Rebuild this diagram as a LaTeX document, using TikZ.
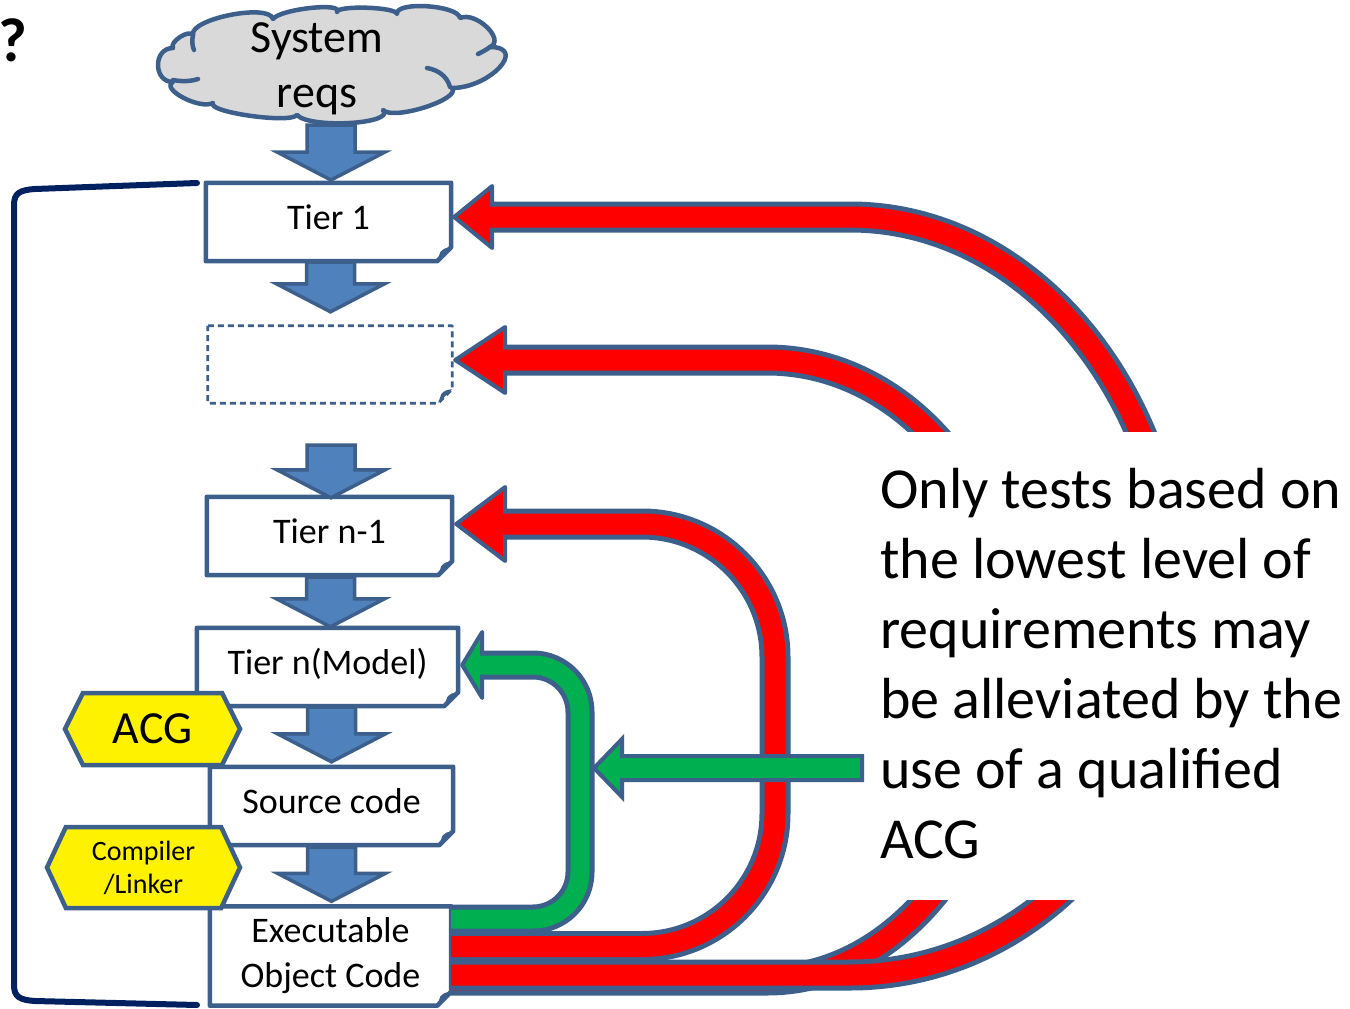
\documentclass[tikz,border=0pt]{standalone}
\usepackage{fontspec}
\setmainfont{Carlito}
\usetikzlibrary{calc}
\definecolor{edge}{HTML}{3C5F8C}
\definecolor{flowblue}{HTML}{4F81BD}
\definecolor{cloudgray}{HTML}{D9D9D9}
\definecolor{navy}{HTML}{002060}
\definecolor{okgreen}{HTML}{00B050}
\definecolor{hotred}{HTML}{FF0000}
\usetikzlibrary{shapes.symbols}

% rectangle with a folded bottom-right corner, drawn round an existing node
\newcommand\foldframe[2][]{%
  \draw[edge,line width=4.5,line join=round,#1]
    (#2.north west) -- (#2.north east) -- ($(#2.south east)+(0,-14)$)
    -- ($(#2.south east)+(-14,0)$) -- (#2.south west) -- cycle;
  \fill[edge] ($(#2.south east)+(0,-14)$) .. controls ($(#2.south east)+(-7,-13)$) ..
    ($(#2.south east)+(-11,-9)$) -- ($(#2.south east)+(-14,0)$) -- cycle;}

% block arrow pointing down: #1 top of shaft, #2 tip
\newcommand\blockdn[2]{%
  \filldraw[fill=flowblue,draw=edge,line width=3.5,line join=miter]
    let \p1=#1, \p2=#2 in
    (\x1-24pt,\y1) -- (\x1+24pt,\y1) -- (\x1+24pt,\y2+28pt) -- (\x1+54pt,\y2+28pt)
    -- (\x1,\y2) -- (\x1-54pt,\y2+28pt) -- (\x1-24pt,\y2+28pt) -- cycle;}

% thick outlined band with an arrow head: #1 fill colour, #2 fill width,
% #3 centre line, #4 head outline
\newcommand\bandarrow[4]{%
  \draw[edge,line width=#2+10] #3;
  \filldraw[fill=#1,draw=edge,line width=4,line join=round] #4;
  \draw[#1,line width=#2] #3;}

\tikzset{
  tierbox/.style={rectangle,fill=white,inner sep=0pt,align=center,
    font=\fontsize{36}{45}\selectfont},
  tierline/.style={tierbox,text height=24pt,text depth=10pt},
  tool/.style={signal,signal to=west and east,draw=edge,line width=4.5,
    fill=yellow,inner sep=0pt,align=center},
}

\begin{document}
\begin{tikzpicture}[x=1pt,y=-1pt]
\useasboundingbox (0,0) rectangle (1350,1009);

% question mark in the corner
\node[anchor=west,inner sep=0pt,font=\bfseries\fontsize{62}{70}\selectfont] (qmark) at (-2,40) {?};

% bracket grouping the tiers
\draw[navy,line width=6,line cap=round]
  (197,183) -- (35,189) .. controls (20,190) and (14,193) .. (14,205)
  -- (14,985) .. controls (14,997) and (20,1000) .. (35,1001) -- (197,1005);

% system requirements cloud
\filldraw[fill=cloudgray,draw=edge,line width=4.5,line join=round]
  (193,35) .. controls (189,19) and (269,3) .. (273,19)
  .. controls (280,9) and (344,2) .. (337,12)
  .. controls (337,5) and (397,7) .. (397,14)
  .. controls (395,1) and (458,5) .. (460,18)
  .. controls (476,11) and (506,40) .. (490,47)
  .. controls (528,47) and (490,88) .. (452,88)
  .. controls (462,99) and (393,121) .. (383,110)
  .. controls (396,124) and (310,129) .. (297,115)
  .. controls (290,124) and (206,112) .. (213,103)
  .. controls (200,110) and (160,89) .. (173,82)
  .. controls (153,82) and (153,48) .. (173,48)
  .. controls (169,42) and (189,29) .. (193,35) -- cycle;
\draw[edge,line width=4.5,line cap=round]
  (173,80) .. controls (183,82) and (192,81) .. (198,79)
  (193,35) .. controls (192,40) and (192,46) .. (194,50)
  (450,87) .. controls (447,76) and (438,70) .. (427,68)
  (490,47) .. controls (486,50) and (482,52) .. (478,54);
\coordinate (cloudfoot) at (331,125);
\node[inner sep=0pt,align=center,font=\fontsize{46}{55}\selectfont] (sysreq) at (317,69) {System\\reqs};

% tiers
\node[tierline,minimum width=245,minimum height=78] (t1) at (328.5,222) {Tier 1};
\foldframe{t1}
\node[tierbox,minimum width=244,minimum height=77] (dsh) at (330,364.5) {};
\foldframe[line width=2.8,dash pattern=on 6 off 4]{dsh}
\node[tierline,minimum width=245,minimum height=78] (tn1) at (329.5,536) {Tier n-1};
\foldframe{tn1}
\node[tierline,minimum width=261,minimum height=78] (tn) at (327.5,667) {Tier n(Model)};
\foldframe{tn}
\node[tierline,minimum width=243,minimum height=78] (src) at (331.5,806) {Source code};
\foldframe{src}
\node[tierbox,minimum width=241,minimum height=99] (exec) at (330.5,956) {Executable\\Object Code};
\foldframe{exec}

% flow between tiers
\coordinate (gapfoot) at (331,445);
\blockdn{(cloudfoot)}{(331,180)}
\blockdn{($(t1.south)+(2,1)$)}{($(dsh.north)+(1,-14)$)}
\blockdn{(gapfoot)}{($(tn1.north)+(1,1)$)}
\blockdn{($(tn1.south)+(1,2)$)}{($(tn.north)+(3,-1)$)}
\blockdn{($(tn.south)+(4,1)$)}{($(src.north)+(0,-5)$)}
\blockdn{($(src.south)+(0,2)$)}{($(exec.north)+(0,-5)$)}

% code generation tools
\node[tool,signal pointer angle=127,minimum width=175,minimum height=72,
  font=\fontsize{46}{50}\selectfont] (acg) at (152.5,729) {ACG};
\node[tool,signal pointer angle=130,minimum width=193,minimum height=81,
  font=\fontsize{28}{33}\selectfont] (comp) at (143.5,867.5) {Compiler\\/Linker};

% verification feedback from the object code to each tier
\bandarrow{hotred}{21}
  {(exec.east |- 0,980) -- (767,980) arc[start angle=90,end angle=0,x radius=247,y radius=330]
   arc[start angle=0,end angle=-90,x radius=247,y radius=290] -- ($(dsh.east |- 0,360)+(40,0)$)}
  {($(dsh.east |- 0,360)+(3,0)$) -- ($(dsh.east |- 0,360)+(53,-33)$) -- ($(dsh.east |- 0,360)+(53,33)$) -- cycle}
\bandarrow{hotred}{21}
  {(exec.east |- 0,975) -- (850,975) arc[start angle=90,end angle=0,x radius=328,y radius=355]
   arc[start angle=0,end angle=-90,x radius=328,y radius=403] -- ($(t1.east |- 0,217)+(30,0)$)}
  {($(t1.east |- 0,217)+(3,0)$) -- ($(t1.east |- 0,217)+(41,-31)$) -- ($(t1.east |- 0,217)+(41,31)$) -- cycle}
\bandarrow{hotred}{21}
  {(exec.east |- 0,946.5) -- (642,946.5) arc[start angle=90,end angle=0,radius=133]
   -- (775,657) arc[start angle=0,end angle=-90,radius=133] -- ($(tn1.east |- 0,524)+(42,0)$)}
  {($(tn1.east |- 0,524)+(4,0)$) -- ($(tn1.east |- 0,524)+(53,-37)$) -- ($(tn1.east |- 0,524)+(53,37)$) -- cycle}
\bandarrow{okgreen}{19}
  {(exec.east |- 0,919) -- (533,919) arc[start angle=90,end angle=0,radius=47]
   -- (580,712) arc[start angle=0,end angle=-90,radius=47] -- ($(tn.east |- 0,665)+(19,0)$)}
  {($(tn.east |- 0,665)+(4,0)$) -- ($(tn.east |- 0,665)+(24,-33)$) -- ($(tn.east |- 0,665)+(24,33)$) -- cycle}

% explanatory note
\node[fill=white,minimum width=488,minimum height=468,anchor=north west,inner sep=0pt] (note) at (862,432) {};
\node[anchor=west,inner sep=0pt,align=left,font=\fontsize{58}{70}\selectfont] (notetext) at (880,664)
  {Only tests based on\\the lowest level of\\requirements may\\be alleviated by the\\use of a qualified\\ACG};

% the qualified ACG relieves the model-level tests
\filldraw[fill=okgreen,draw=edge,line width=4,line join=miter]
  (594,768) -- (622,739) -- (622,756) -- (note.west |- 0,756) -- (note.west |- 0,780)
  -- (622,780) -- (622,797) -- cycle;
\end{tikzpicture}
\end{document}
